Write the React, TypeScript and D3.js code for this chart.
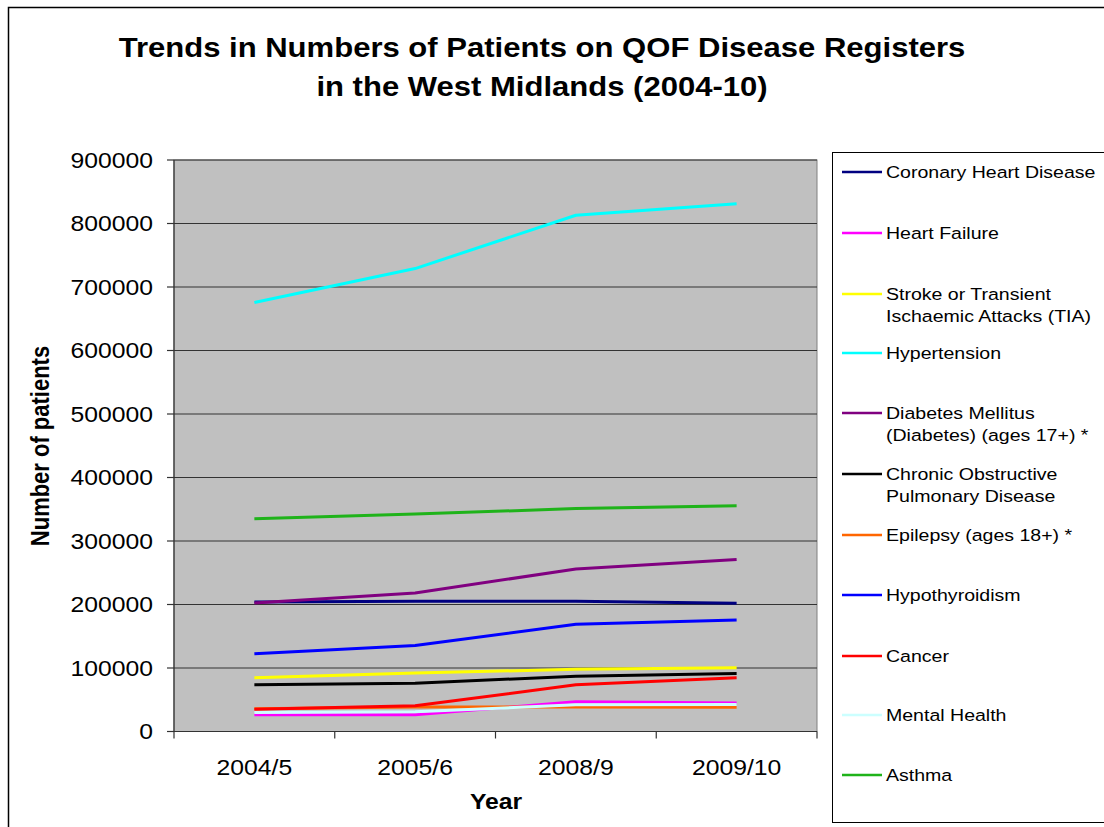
import React from "react";
import * as d3 from "d3";

const years = ["2004/5", "2005/6", "2008/9", "2009/10"];

const coronaryHeartDisease = [204000, 205000, 205000, 202000];
const heartFailure = [26500, 26500, 47000, 45000];
const strokeTIA = [84500, 92000, 98000, 100500];
const hypertension = [675500, 729000, 813000, 831000];
const diabetes = [202500, 218000, 256000, 271000];
const copd = [73500, 76000, 87000, 91500];
const epilepsy = [36000, 38500, 38500, 38000];
const hypothyroidism = [122500, 135500, 169000, 175500];
const cancer = [35000, 40500, 73500, 84500];
const mentalHealth = [30000, 31000, 42000, 42500];
const asthma = [335000, 342500, 351000, 355500];

const seriesNames = [
  "Coronary Heart Disease",
  "Heart Failure",
  "Stroke or Transient Ischaemic Attacks (TIA)",
  "Hypertension",
  "Diabetes Mellitus (Diabetes) (ages 17+) *",
  "Chronic Obstructive Pulmonary Disease",
  "Epilepsy (ages 18+) *",
  "Hypothyroidism",
  "Cancer",
  "Mental Health",
  "Asthma",
];
const legendLines = [
  ["Coronary Heart Disease"],
  ["Heart Failure"],
  ["Stroke or Transient", "Ischaemic Attacks (TIA)"],
  ["Hypertension"],
  ["Diabetes Mellitus", "(Diabetes) (ages 17+) *"],
  ["Chronic Obstructive", "Pulmonary Disease"],
  ["Epilepsy (ages 18+) *"],
  ["Hypothyroidism"],
  ["Cancer"],
  ["Mental Health"],
  ["Asthma"],
];
const seriesValues = [
  coronaryHeartDisease,
  heartFailure,
  strokeTIA,
  hypertension,
  diabetes,
  copd,
  epilepsy,
  hypothyroidism,
  cancer,
  mentalHealth,
  asthma,
];
const seriesColors = [
  "#000080",
  "#FF00FF",
  "#FFFF00",
  "#00FFFF",
  "#800080",
  "#000000",
  "#FF6600",
  "#0000FF",
  "#FF0000",
  "#CCFFFF",
  "#1FB31A",
];
const yTicks = [0, 100000, 200000, 300000, 400000, 500000, 600000, 700000, 800000, 900000];

const FONT = "'Liberation Sans', Arial, sans-serif";
const SX = 1.15; // horizontal stretch applied to all text

function T({ x, y, size, bold, anchor, children, rotate }: any) {
  const tr = rotate
    ? `translate(${x},${y}) scale(${SX},1) rotate(${rotate})`
    : `translate(${x},${y}) scale(${SX},1)`;
  return (
    <text
      transform={tr}
      fontFamily={FONT}
      fontSize={size}
      fontWeight={bold ? "bold" : "normal"}
      textAnchor={anchor || "start"}
      fill="#000"
    >
      {children}
    </text>
  );
}

export default function App() {
  const left = 174;
  const right = 817;
  const top = 160;
  const bottom = 731.5;

  const x = d3.scaleBand<string>().domain(years).range([left, right]).padding(0);
  const y = d3.scaleLinear().domain([0, 900000]).range([bottom, top]);
  const cx = (d: string) => (x(d) as number) + x.bandwidth() / 2;

  const line = d3
    .line<number>()
    .x((_, i) => cx(years[i]))
    .y((v) => y(v));

  const boundaries = [...years.map((d) => x(d) as number), right];

  const legendY = [172, 233, 294, 353, 413, 474, 535, 595, 656, 715, 775];

  return (
    <svg
      width={1104}
      height={827}
      style={{ position: "absolute", left: 0, top: 0, background: "#fff" }}
    >
      <rect x={8.5} y={7.5} width={1110} height={830} fill="#fff" stroke="#000" strokeWidth={1.5} />

      <T x={542} y={57} size={27} bold anchor="middle">
        Trends in Numbers of Patients on QOF Disease Registers
      </T>
      <T x={542} y={96} size={27} bold anchor="middle">
        in the West Midlands (2004-10)
      </T>

      {/* plot area */}
      <rect x={left} y={top} width={right - left} height={bottom - top} fill="#C0C0C0" stroke="#808080" strokeWidth={1} />
      {yTicks.map((t) => (
        <line key={t} x1={left} x2={right} y1={y(t)} y2={y(t)} stroke="#333" strokeWidth={1.2} />
      ))}

      {/* axes */}
      <line x1={left} x2={left} y1={top} y2={bottom} stroke="#333" strokeWidth={1.2} />
      <line x1={left} x2={right} y1={bottom} y2={bottom} stroke="#333" strokeWidth={1.2} />
      {yTicks.map((t) => (
        <g key={"yt" + t}>
          <line x1={left - 7} x2={left} y1={y(t)} y2={y(t)} stroke="#333" strokeWidth={1.2} />
          <T x={153} y={y(t) + 7.5} size={21.5} anchor="end">
            {String(t)}
          </T>
        </g>
      ))}
      {boundaries.map((b, i) => (
        <line key={"xt" + i} x1={b} x2={b} y1={bottom} y2={bottom + 7} stroke="#333" strokeWidth={1.2} />
      ))}
      {years.map((d) => (
        <T key={d} x={cx(d)} y={775} size={21.5} anchor="middle">
          {d}
        </T>
      ))}

      <T x={496} y={809} size={21.5} bold anchor="middle">
        Year
      </T>
      <T x={49} y={446} size={22} bold anchor="middle" rotate={-90}>
        Number of patients
      </T>

      {/* series */}
      {seriesValues.map((vals, i) => (
        <path
          key={seriesNames[i]}
          d={line(vals) as string}
          fill="none"
          stroke={seriesColors[i]}
          strokeWidth={3}
          strokeLinejoin="round"
        />
      ))}

      {/* legend */}
      <rect x={832.5} y={152.5} width={300} height={670} fill="#fff" stroke="#000" strokeWidth={1} />
      {legendLines.map((lines, i) => (
        <g key={"lg" + i}>
          <line x1={842} x2={882} y1={legendY[i]} y2={legendY[i]} stroke={seriesColors[i]} strokeWidth={2.5} />
          {lines.map((l, j) => (
            <T key={j} x={886} y={legendY[i] + 6 + j * 22} size={17}>
              {l}
            </T>
          ))}
        </g>
      ))}
    </svg>
  );
}
